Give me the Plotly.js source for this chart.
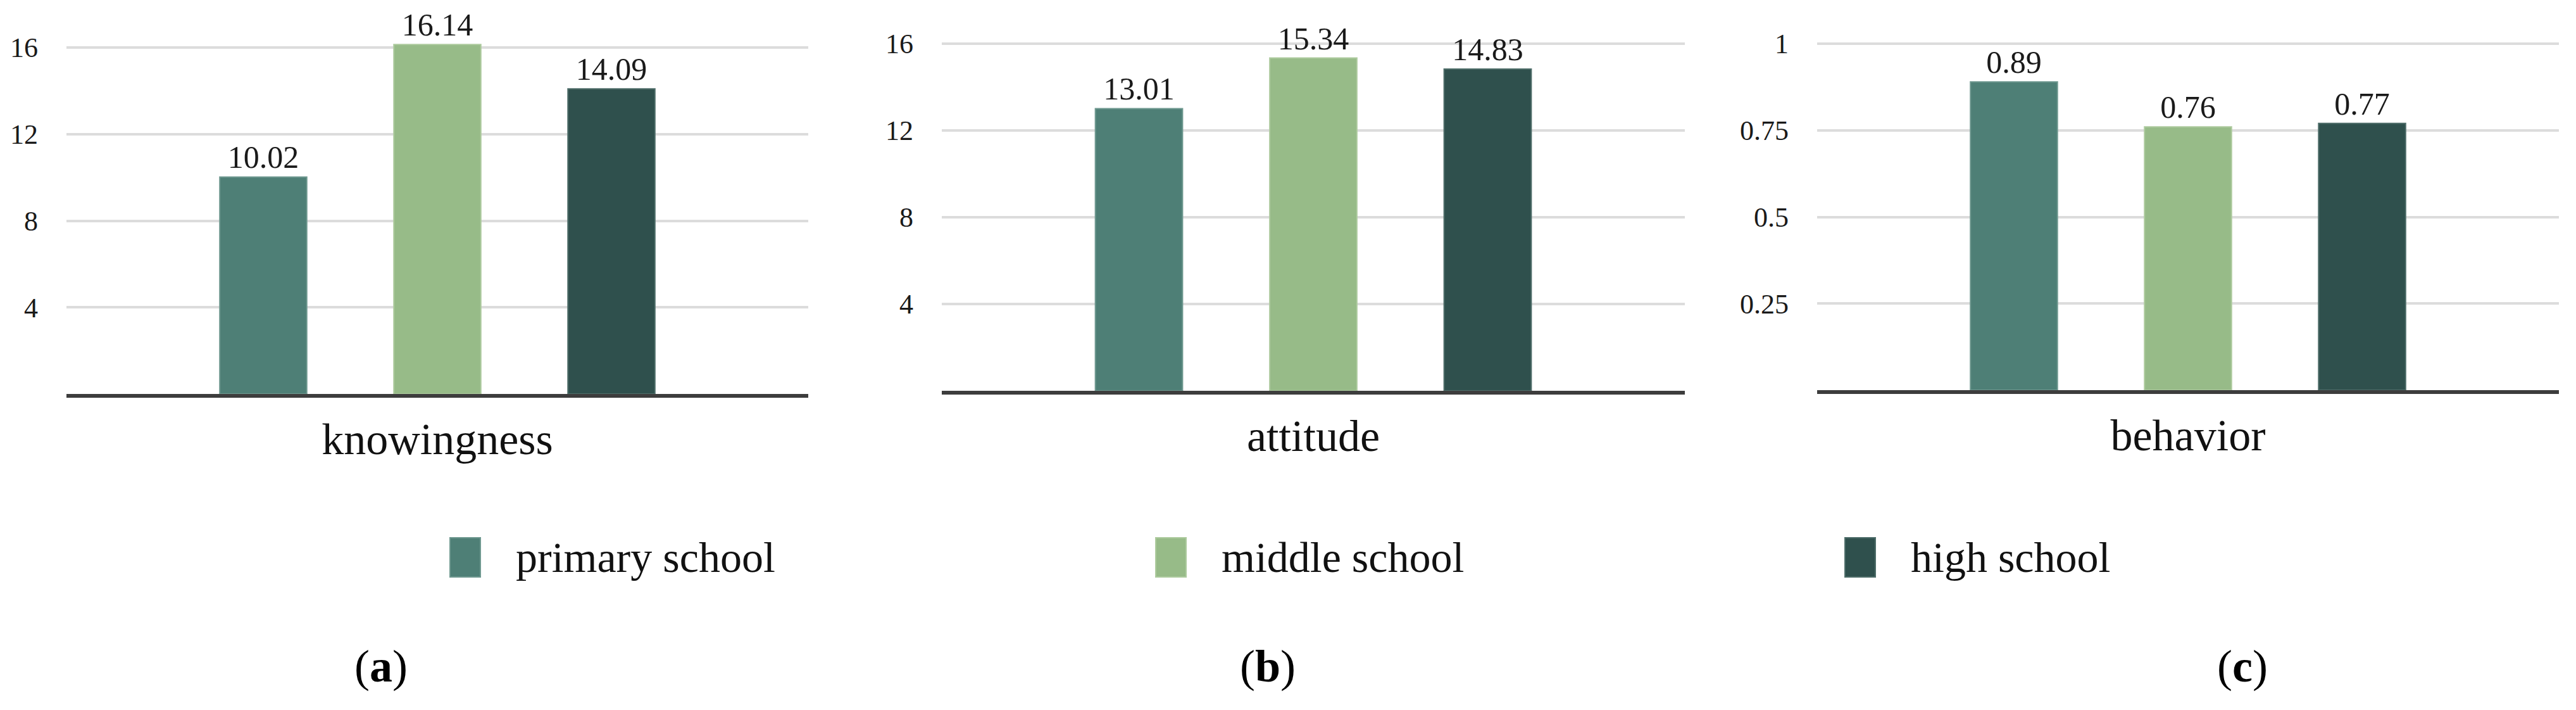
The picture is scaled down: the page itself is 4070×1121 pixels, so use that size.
<!DOCTYPE html>
<html>
<head>
<meta charset="utf-8">
<script src="https://cdn.plot.ly/plotly-3.0.1.min.js"></script>
<style>
  html, body { margin: 0; padding: 0; background: #ffffff; }
  #chart { width: 4070px; height: 1121px; }
</style>
</head>
<body>
<div id="chart"></div>
<script>
// ---- data ----
const categories = ['knowingness', 'attitude', 'behavior'];
const seriesNames = ['primary school', 'middle school', 'high school'];
const primarySchool = [10.02, 13.01, 0.89];
const middleSchool = [16.14, 15.34, 0.76];
const highSchool = [14.09, 14.83, 0.77];
const yTickVals = [[4, 8, 12, 16], [4, 8, 12, 16], [0.25, 0.5, 0.75, 1]];
const yTickText = [['4', '8', '12', '16'], ['4', '8', '12', '16'], ['0.25', '0.5', '0.75', '1']];
const panelLabels = ['a', 'b', 'c'];

// ---- style / layout ----
const W = 4070, H = 1121;
const seriesValues = [primarySchool, middleSchool, highSchool];
const colors = ['#4e7f76', '#97bb88', '#2f504d'];
const lineColors = ['#6f9990', '#aecb9f', '#4f6e6a'];
const fontFam = '"Liberation Serif", "Times New Roman", serif';

// plot-area pixel boxes: left, right, pixel of y=0, pixel of top gridline, top tick value, range max
const panels = [
  {l: 105, r: 1277, y0: 622, yt: 75, tv: 16, rmax: 17},
  {l: 1488, r: 2662, y0: 617, yt: 69, tv: 16, rmax: 17},
  {l: 2871, r: 4043, y0: 616, yt: 69, tv: 1, rmax: 1.0625}
];
const legendTextX = [813, 1928, 3017];
const legendY = 880;
const panelLabelX = [602, 2003, 3543];
const panelLabelY = 1052;

const traces = [];
const layout = {
  width: W, height: H,
  margin: {l: 0, r: 0, t: 0, b: 0},
  paper_bgcolor: '#ffffff',
  plot_bgcolor: '#ffffff',
  barmode: 'group',
  bargap: 0.296,
  bargroupgap: 0.5,
  showlegend: false,
  font: {family: fontFam, color: '#1a1a1a'},
  shapes: [],
  annotations: []
};

panels.forEach((p, i) => {
  const sfx = i === 0 ? '' : String(i + 1);
  const unit = (p.y0 - p.yt) / p.tv;
  const topPx = p.y0 - unit * p.rmax;
  layout['xaxis' + sfx] = {
    domain: [p.l / W, p.r / W],
    anchor: 'y' + sfx,
    type: 'category',
    range: [-0.5, 0.5],
    showgrid: false,
    zeroline: false,
    showline: true,
    linecolor: '#3d3d3d',
    linewidth: 6,
    ticks: '',
    ticklabelstandoff: 5,
    tickfont: {family: fontFam, size: 70, color: '#111111'},
    fixedrange: true
  };
  layout['yaxis' + sfx] = {
    domain: [1 - p.y0 / H, 1 - topPx / H],
    anchor: 'x' + sfx,
    range: [0, p.rmax],
    tickmode: 'array',
    tickvals: yTickVals[i],
    ticktext: yTickText[i],
    showgrid: true,
    gridcolor: '#dcdcdc',
    gridwidth: 4,
    zeroline: false,
    showline: false,
    ticks: '',
    ticklabelstandoff: 44,
    tickfont: {family: fontFam, size: 44, color: '#1a1a1a'},
    fixedrange: true
  };
  seriesValues.forEach((vals, s) => {
    traces.push({
      type: 'bar',
      name: seriesNames[s],
      x: [categories[i]],
      y: [vals[i]],
      xaxis: 'x' + sfx,
      yaxis: 'y' + sfx,
      marker: {color: colors[s], line: {color: lineColors[s], width: 2}},
      texttemplate: '%{y:.2f}',
      textposition: 'outside',
      constraintext: 'none',
      cliponaxis: false,
      outsidetextfont: {family: fontFam, size: 50, color: '#1a1a1a'},
      hoverinfo: 'skip'
    });
  });
  layout.annotations.push({
    xref: 'paper', yref: 'paper',
    x: panelLabelX[i] / W, y: 1 - panelLabelY / H,
    xanchor: 'center', yanchor: 'middle',
    text: '(<b>' + panelLabels[i] + '</b>)',
    showarrow: false,
    font: {family: fontFam, size: 72, color: '#000000'}
  });
});

// legend (drawn as paper-positioned swatches + labels)
seriesNames.forEach((nm, s) => {
  const tx = legendTextX[s];
  layout.shapes.push({
    type: 'rect', xref: 'paper', yref: 'paper',
    x0: (tx - 102) / W, x1: (tx - 54) / W,
    y0: 1 - (legendY + 31) / H, y1: 1 - (legendY - 31) / H,
    fillcolor: colors[s], line: {color: lineColors[s], width: 2}
  });
  layout.annotations.push({
    xref: 'paper', yref: 'paper',
    x: tx / W, y: 1 - legendY / H,
    xanchor: 'left', yanchor: 'middle',
    text: nm, showarrow: false,
    font: {family: fontFam, size: 68, color: '#111111'}
  });
});

Plotly.newPlot('chart', traces, layout, {staticPlot: true, displayModeBar: false});
</script>
</body>
</html>
